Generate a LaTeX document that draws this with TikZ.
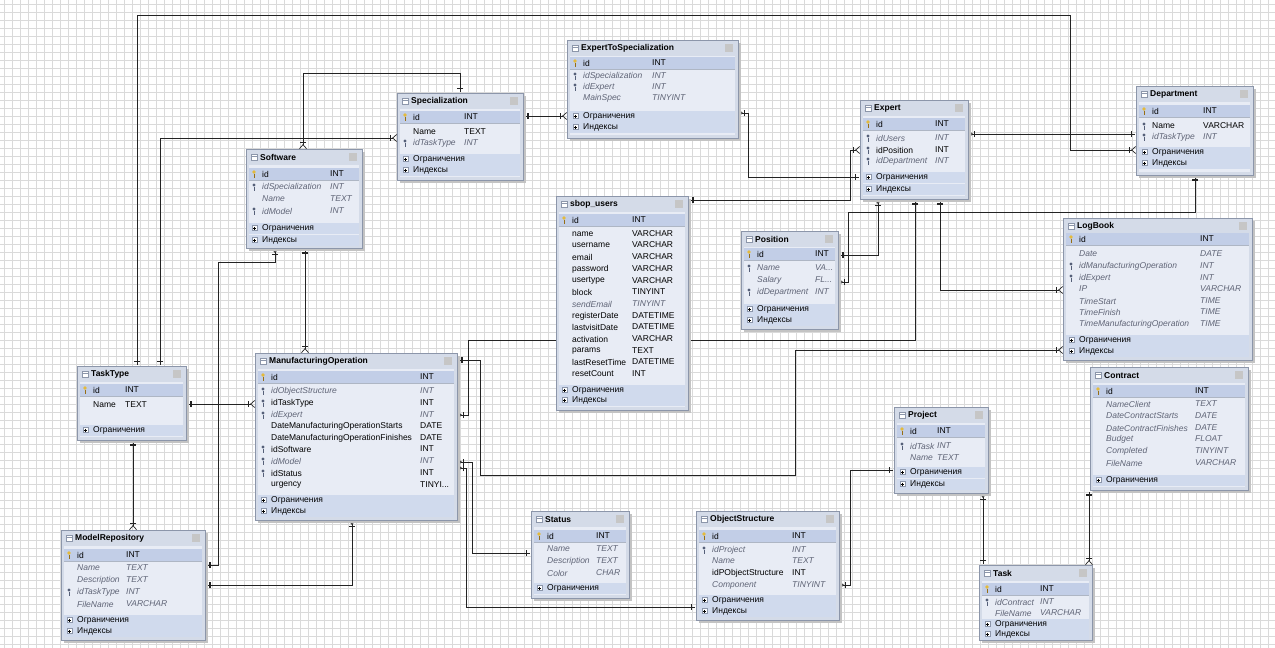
\documentclass[tikz,border=0pt]{standalone}
\usepackage{fontspec}
\setmainfont{Liberation Sans}
\usetikzlibrary{arrows.meta,calc}
\pgfdeclarelayer{gridlayer}
\pgfdeclarelayer{linelayer}
\pgfsetlayers{gridlayer,linelayer,main}
\definecolor{gridc}{RGB}{218,218,218}
\definecolor{boxc}{RGB}{212,219,232}
\definecolor{borderc}{RGB}{140,150,170}
\definecolor{innerc}{RGB}{232,236,245}
\definecolor{pkc}{RGB}{194,206,231}
\definecolor{sectc}{RGB}{208,218,237}
\definecolor{shadowc}{RGB}{195,195,195}
\definecolor{keyy}{RGB}{228,186,60}
\definecolor{keyyd}{RGB}{150,110,20}
\definecolor{keyf}{RGB}{85,95,120}
\definecolor{itc}{RGB}{95,100,118}
\definecolor{linec}{RGB}{35,35,35}
\newcommand\erfs{\fontsize{8.5}{9}\selectfont}
\tikzset{
  tblbox/.style={draw=borderc, fill=boxc, line width=0.6pt, inner sep=0pt, outer sep=0pt, rectangle},
  ttl/.style={font=\erfs\bfseries, inner sep=0pt, anchor=west, text=black},
  fn/.style={font=\erfs, inner sep=0pt, anchor=west, text=black},
  fi/.style={font=\erfs\itshape, inner sep=0pt, anchor=west, text=itc},
  sectt/.style={font=\erfs, inner sep=0pt, anchor=west, text=black},
  rel/.style={draw=linec, line width=0.7pt,
    {Rectangle[length=0.4pt,width=0.7pt,sep=2pt]Bar[width=6pt,sep=1.5pt]Bar[width=6pt]}-{Bar[width=6pt,sep=1pt]Straight Barb[reversed,length=4pt,width=7pt]}},
}
% table: #1 name, #2 x, #3 y, #4 w, #5 h, #6 title, #7 type column x
\newcommand\ertbl[7]{%
  \def\erN{#1}\def\erX{#2}\def\erY{#3}\def\erW{#4}\def\erH{#5}\def\erC{#7}%
  \fill[shadowc] (#2+3,#3+3) rectangle (#2+#4+3,#3+#5+3);
  \node[tblbox, minimum width=#4pt, minimum height=#5pt, anchor=north west] (#1) at (#2,#3) {};
  \fill[innerc] (#2+3,#3+16) rectangle (#2+#4-3,#3+#5-3);
  \draw[borderc, fill=white, line width=0.4pt] (#2+5,#3+5) rectangle (#2+11,#3+11);
  \draw[borderc, line width=0.4pt] (#2+5,#3+7) -- (#2+11,#3+7);
  \fill[gray!45] (#2+#4-13,#3+4) rectangle (#2+#4-5,#3+12);
  \node[ttl] (#1-title) at (#2+14,#3+8.5) {#6};
}
\newcommand\erpk[1]{%
  \fill[pkc] (\erX+3,#1-6.5) rectangle (\erX+\erW-3,#1+6.5);
  \draw[borderc!70, line width=0.3pt] (\erX+3,#1+6.5) -- (\erX+\erW-3,#1+6.5);
}
\newcommand\kp[2]{\fill[keyy] (#1,#2-2) circle (1.8pt); \draw[keyyd, line width=1pt] (#1,#2-0.3) -- (#1,#2+3.8);}
\newcommand\kf[2]{\fill[keyf] (#1,#2-2) circle (1.6pt); \draw[keyf, line width=0.9pt] (#1,#2-0.3) -- (#1,#2+3.8);}
\newcommand\kn[2]{}
% field: #1 y, #2 name, #3 type, #4 style, #5 key macro
\newcommand\erfld[5]{%
  #5{\erX+8}{#1}%
  \node[#4] (\erN-#2) at (\erX+16,#1) {#2};
  \node[#4] (\erN-#2-type) at (\erC,#1) {#3};
}
\newcommand\ersect[2]{%
  \fill[sectc] (\erX+3,#1-5.5) rectangle (\erX+\erW-3,#1+5.5);
  \draw[borderc, fill=white, line width=0.3pt] (\erX+6,#1-2.5) rectangle (\erX+11,#1+2.5);
  \draw[black, line width=0.3pt] (\erX+7,#1) -- (\erX+10,#1) (\erX+8.5,#1-1.5) -- (\erX+8.5,#1+1.5);
  \node[sectt] (\erN-sect-#1) at (\erX+16,#1) {#2};
}
\begin{document}
\begin{tikzpicture}[x=1pt,y=-1pt]
\useasboundingbox (0,0) rectangle (1275,648);
\begin{pgfonlayer}{gridlayer}
\fill[white] (0,0) rectangle (1275,648);
\foreach \gx in {4,12,...,1275} \draw[gridc, line width=0.4pt] (\gx,0) -- (\gx,648);
\foreach \gy in {4,12,...,648} \draw[gridc, line width=0.4pt] (0,\gy) -- (1275,\gy);
\end{pgfonlayer}

% ---------- tables ----------
\ertbl{ets}{567}{40}{171}{98}{ExpertToSpecialization}{652}
\erpk{63}
\erfld{63}{id}{INT}{fn}{\kp}
\erfld{76}{idSpecialization}{INT}{fi}{\kf}
\erfld{87}{idExpert}{INT}{fi}{\kf}
\erfld{98}{MainSpec}{TINYINT}{fi}{\kn}
\ersect{116}{Ограничения}
\ersect{127}{Индексы}

\ertbl{spec}{397}{93}{126}{87}{Specialization}{464}
\erpk{117}
\erfld{117}{id}{INT}{fn}{\kp}
\erfld{132}{Name}{TEXT}{fn}{\kn}
\erfld{143}{idTaskType}{INT}{fi}{\kf}
\ersect{159}{Ограничения}
\ersect{170}{Индексы}

\ertbl{soft}{246}{149}{116}{99}{Software}{330}
\erpk{174}
\erfld{174}{id}{INT}{fn}{\kp}
\erfld{187}{idSpecialization}{INT}{fi}{\kf}
\erfld{199}{Name}{TEXT}{fi}{\kn}
\erfld{211}{idModel}{INT}{fi}{\kf}
\ersect{228}{Ограничения}
\ersect{240}{Индексы}

\ertbl{expert}{860}{100}{108}{99}{Expert}{935}
\erpk{124}
\erfld{124}{id}{INT}{fn}{\kp}
\erfld{138}{idUsers}{INT}{fi}{\kf}
\erfld{150}{idPosition}{INT}{fn}{\kf}
\erfld{161}{idDepartment}{INT}{fi}{\kf}
\ersect{177}{Ограничения}
\ersect{189}{Индексы}

\ertbl{dept}{1136}{86}{117}{89}{Department}{1203}
\erpk{111}
\erfld{111}{id}{INT}{fn}{\kp}
\erfld{126}{Name}{VARCHAR}{fn}{\kf}
\erfld{137}{idTaskType}{INT}{fi}{\kf}
\ersect{152}{Ограничения}
\ersect{163}{Индексы}

\ertbl{users}{556}{196}{132}{214}{sbop\_users}{632}
\erpk{220}
\erfld{220}{id}{INT}{fn}{\kp}
\erfld{234}{name}{VARCHAR}{fn}{\kn}
\erfld{245}{username}{VARCHAR}{fn}{\kn}
\erfld{257}{email}{VARCHAR}{fn}{\kn}
\erfld{269}{password}{VARCHAR}{fn}{\kn}
\erfld{281}{usertype}{VARCHAR}{fn}{\kn}
\erfld{292}{block}{TINYINT}{fn}{\kn}
\erfld{304}{sendEmail}{TINYINT}{fi}{\kn}
\erfld{316}{registerDate}{DATETIME}{fn}{\kn}
\erfld{327}{lastvisitDate}{DATETIME}{fn}{\kn}
\erfld{339}{activation}{VARCHAR}{fn}{\kn}
\erfld{351}{params}{TEXT}{fn}{\kn}
\erfld{362}{lastResetTime}{DATETIME}{fn}{\kn}
\erfld{374}{resetCount}{INT}{fn}{\kn}
\ersect{390}{Ограничения}
\ersect{400}{Индексы}

\ertbl{pos}{741}{231}{97}{98}{Position}{815}
\erpk{254}
\erfld{254}{id}{INT}{fn}{\kp}
\erfld{268}{Name}{VA...}{fi}{\kf}
\erfld{280}{Salary}{FL...}{fi}{\kn}
\erfld{292}{idDepartment}{INT}{fi}{\kf}
\ersect{309}{Ограничения}
\ersect{320}{Индексы}

\ertbl{logbook}{1063}{218}{189}{142}{LogBook}{1200}
\erpk{239}
\erfld{239}{id}{INT}{fn}{\kp}
\erfld{254}{Date}{DATE}{fi}{\kn}
\erfld{266}{idManufacturingOperation}{INT}{fi}{\kf}
\erfld{278}{idExpert}{INT}{fi}{\kf}
\erfld{289}{IP}{VARCHAR}{fi}{\kn}
\erfld{301}{TimeStart}{TIME}{fi}{\kn}
\erfld{312}{TimeFinish}{TIME}{fi}{\kn}
\erfld{324}{TimeManufacturingOperation}{TIME}{fi}{\kn}
\ersect{340}{Ограничения}
\ersect{351}{Индексы}

\ertbl{tasktype}{77}{366}{109}{74}{TaskType}{125}
\erpk{390}
\erfld{390}{id}{INT}{fn}{\kp}
\erfld{405}{Name}{TEXT}{fn}{\kn}
\ersect{430}{Ограничения}

\ertbl{mo}{255}{353}{202}{167}{ManufacturingOperation}{420}
\erpk{377}
\erfld{377}{id}{INT}{fn}{\kp}
\erfld{391}{idObjectStructure}{INT}{fi}{\kf}
\erfld{403}{idTaskType}{INT}{fn}{\kf}
\erfld{415}{idExpert}{INT}{fi}{\kf}
\erfld{426}{DateManufacturingOperationStarts}{DATE}{fn}{\kn}
\erfld{438}{DateManufacturingOperationFinishes}{DATE}{fn}{\kn}
\erfld{449}{idSoftware}{INT}{fn}{\kf}
\erfld{461}{idModel}{INT}{fi}{\kf}
\erfld{473}{idStatus}{INT}{fn}{\kf}
\erfld{485}{urgency}{TINYI...}{fn}{\kn}
\ersect{500}{Ограничения}
\ersect{511}{Индексы}

\ertbl{contract}{1090}{367}{158}{123}{Contract}{1195}
\erpk{391}
\erfld{391}{id}{INT}{fn}{\kp}
\erfld{404}{NameClient}{TEXT}{fi}{\kn}
\erfld{416}{DateContractStarts}{DATE}{fi}{\kn}
\erfld{428}{DateContractFinishes}{DATE}{fi}{\kn}
\erfld{439}{Budget}{FLOAT}{fi}{\kn}
\erfld{451}{Completed}{TINYINT}{fi}{\kn}
\erfld{463}{FileName}{VARCHAR}{fi}{\kn}
\ersect{480}{Ограничения}

\ertbl{project}{894}{407}{94}{86}{Project}{937}
\erpk{431}
\erfld{431}{id}{INT}{fn}{\kp}
\erfld{446}{idTask}{INT}{fi}{\kf}
\erfld{458}{Name}{TEXT}{fi}{\kn}
\ersect{472}{Ограничения}
\ersect{484}{Индексы}

\ertbl{status}{531}{511}{98}{87}{Status}{596}
\erpk{536}
\erfld{536}{id}{INT}{fn}{\kp}
\erfld{549}{Name}{TEXT}{fi}{\kn}
\erfld{561}{Description}{TEXT}{fi}{\kn}
\erfld{573}{Color}{CHAR}{fi}{\kn}
\ersect{588}{Ограничения}

\ertbl{objstruct}{696}{511}{143}{109}{ObjectStructure}{792}
\erpk{536}
\erfld{536}{id}{INT}{fn}{\kp}
\erfld{550}{idProject}{INT}{fi}{\kf}
\erfld{561}{Name}{TEXT}{fi}{\kn}
\erfld{573}{idPObjectStructure}{INT}{fn}{\kn}
\erfld{585}{Component}{TINYINT}{fi}{\kn}
\ersect{600}{Ограничения}
\ersect{611}{Индексы}

\ertbl{modelrep}{61}{530}{144}{110}{ModelRepository}{126}
\erpk{555}
\erfld{555}{id}{INT}{fn}{\kp}
\erfld{568}{Name}{TEXT}{fi}{\kn}
\erfld{580}{Description}{TEXT}{fi}{\kn}
\erfld{592}{idTaskType}{INT}{fi}{\kf}
\erfld{604}{FileName}{VARCHAR}{fi}{\kn}
\ersect{620}{Ограничения}
\ersect{631}{Индексы}

\ertbl{task}{979}{565}{113}{75}{Task}{1040}
\erpk{589}
\erfld{589}{id}{INT}{fn}{\kp}
\erfld{602}{idContract}{INT}{fi}{\kf}
\erfld{613}{FileName}{VARCHAR}{fi}{\kn}
\ersect{624}{Ограничения}
\ersect{634}{Индексы}

% ---------- connectors ----------
\begin{pgfonlayer}{linelayer}
\draw[rel] (137,0 |- tasktype.north) |- (1070,15) |- (dept.west |- 0,150);
\draw[rel] (160,0 |- tasktype.north) |- (spec.west |- 0,138);
\draw[rel] (460,0 |- spec.north) -- (460,73) -| (303,0 |- soft.north);
\draw[rel] (spec.east |- 0,116) -- (ets.west |- 0,116);
\draw[rel] (expert.west |- 0,177) -| (748,113) -- (ets.east |- 0,113);
\draw[rel] (users.east |- 0,200) -| (850,150) -- (expert.west |- 0,150);
\draw[rel] (pos.east |- 0,255) -| (878,0 |- expert.south);
\draw[rel] (1195,0 |- dept.south) |- (848,212) |- (pos.east |- 0,282);
\draw[rel] (dept.west |- 0,134) -- (expert.east |- 0,134);
\draw[rel] (940,0 |- expert.south) |- (logbook.west |- 0,290);
\draw[rel] (915,0 |- expert.south) |- (468,340) |- (mo.east |- 0,415);
\draw[rel] (mo.east |- 0,360) -| (480,475) -| (795,350) -- (logbook.west |- 0,350);
\draw[rel] (status.west |- 0,553) -| (472,462) -- (mo.east |- 0,462);
\draw[rel] (objstruct.west |- 0,607) -| (466,468) -- (mo.east |- 0,468);
\draw[rel] (305,0 |- soft.south) -- (305,0 |- mo.north);
\draw[rel] (modelrep.east |- 0,565) -| (218,262) -| (275,0 |- soft.south);
\draw[rel] (modelrep.east |- 0,585) -| (352,0 |- mo.south);
\draw[rel] (tasktype.east |- 0,404) -- (mo.west |- 0,404);
\draw[rel] (133,0 |- tasktype.south) -- (133,0 |- modelrep.north);
\draw[rel] (983,0 |- task.north) -- (983,0 |- project.south);
\draw[rel] (1089,0 |- contract.south) -- (1089,0 |- task.north);
\draw[rel] (project.west |- 0,470) -| (850,585) -- (objstruct.east |- 0,585);
\end{pgfonlayer}
\end{tikzpicture}
\end{document}
